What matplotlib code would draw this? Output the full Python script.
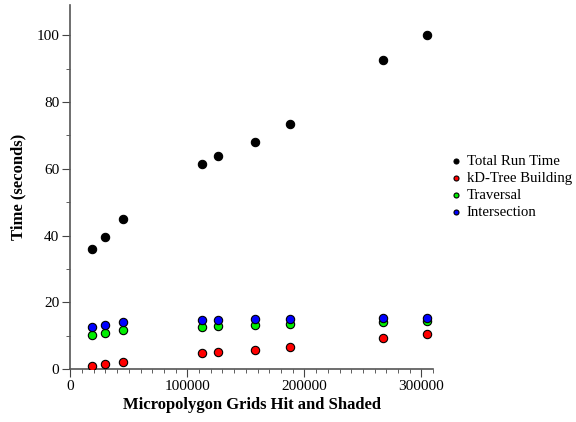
import matplotlib
matplotlib.use("Agg")
import matplotlib.pyplot as plt
from matplotlib.ticker import MultipleLocator

grids = [18200, 29600, 45200, 112900, 126200, 158000, 187300, 266900, 304700]
total = [35.9, 39.5, 44.9, 61.5, 63.7, 68.0, 73.4, 92.6, 100.0]
kdtree = [1.0, 1.4, 2.2, 4.7, 5.0, 5.7, 6.6, 9.4, 10.5]
traversal = [10.3, 10.9, 11.7, 12.6, 13.0, 13.2, 13.5, 14.2, 14.4]
intersection = [12.5, 13.1, 14.1, 14.7, 14.8, 15.0, 14.9, 15.2, 15.3]

series_names = ["Total Run Time", "kD-Tree Building", "Traversal", "Intersection"]
series_vals = [total, kdtree, traversal, intersection]
colors = ["#000000", "#ff0000", "#00ee00", "#0000ff"]

plt.rcParams['font.family'] = ['Liberation Serif', 'DejaVu Serif']

fig = plt.figure(figsize=(5.76, 4.22), dpi=100)
ax = fig.add_axes([0.122, 0.1256, 0.630, 0.862])

for name, vals, c in zip(series_names, series_vals, colors):
    ax.scatter(grids, vals, s=36, color=c, edgecolors='black', linewidths=0.8,
               label=name, zorder=3)

ax.set_xlim(0, 310000)
ax.set_ylim(0, 109)
ax.xaxis.set_major_locator(MultipleLocator(100000))
ax.xaxis.set_minor_locator(MultipleLocator(10000))
ax.yaxis.set_major_locator(MultipleLocator(20))
ax.yaxis.set_minor_locator(MultipleLocator(10))
ax.spines['top'].set_visible(False)
ax.spines['right'].set_visible(False)
for s in ['left', 'bottom']:
    ax.spines[s].set_color('#555555')
    ax.spines[s].set_linewidth(1.2)
ax.tick_params(which='major', length=6, color='#444444', labelsize=11, pad=2)
ax.tick_params(which='minor', length=2.8, color='#444444')

ax.set_xlabel("Micropolygon Grids Hit and Shaded", fontsize=12, fontweight='bold',
              labelpad=3)
ax.set_ylabel("Time (seconds)", fontsize=12, fontweight='bold', labelpad=7)

ax.legend(loc='center left', bbox_to_anchor=(1.005, 0.50), frameon=False,
          fontsize=10.6, handletextpad=0.25, markerscale=0.6, labelspacing=0.25,
          borderaxespad=0.5, handlelength=1.0)

fig.savefig("out.png", dpi=100)
